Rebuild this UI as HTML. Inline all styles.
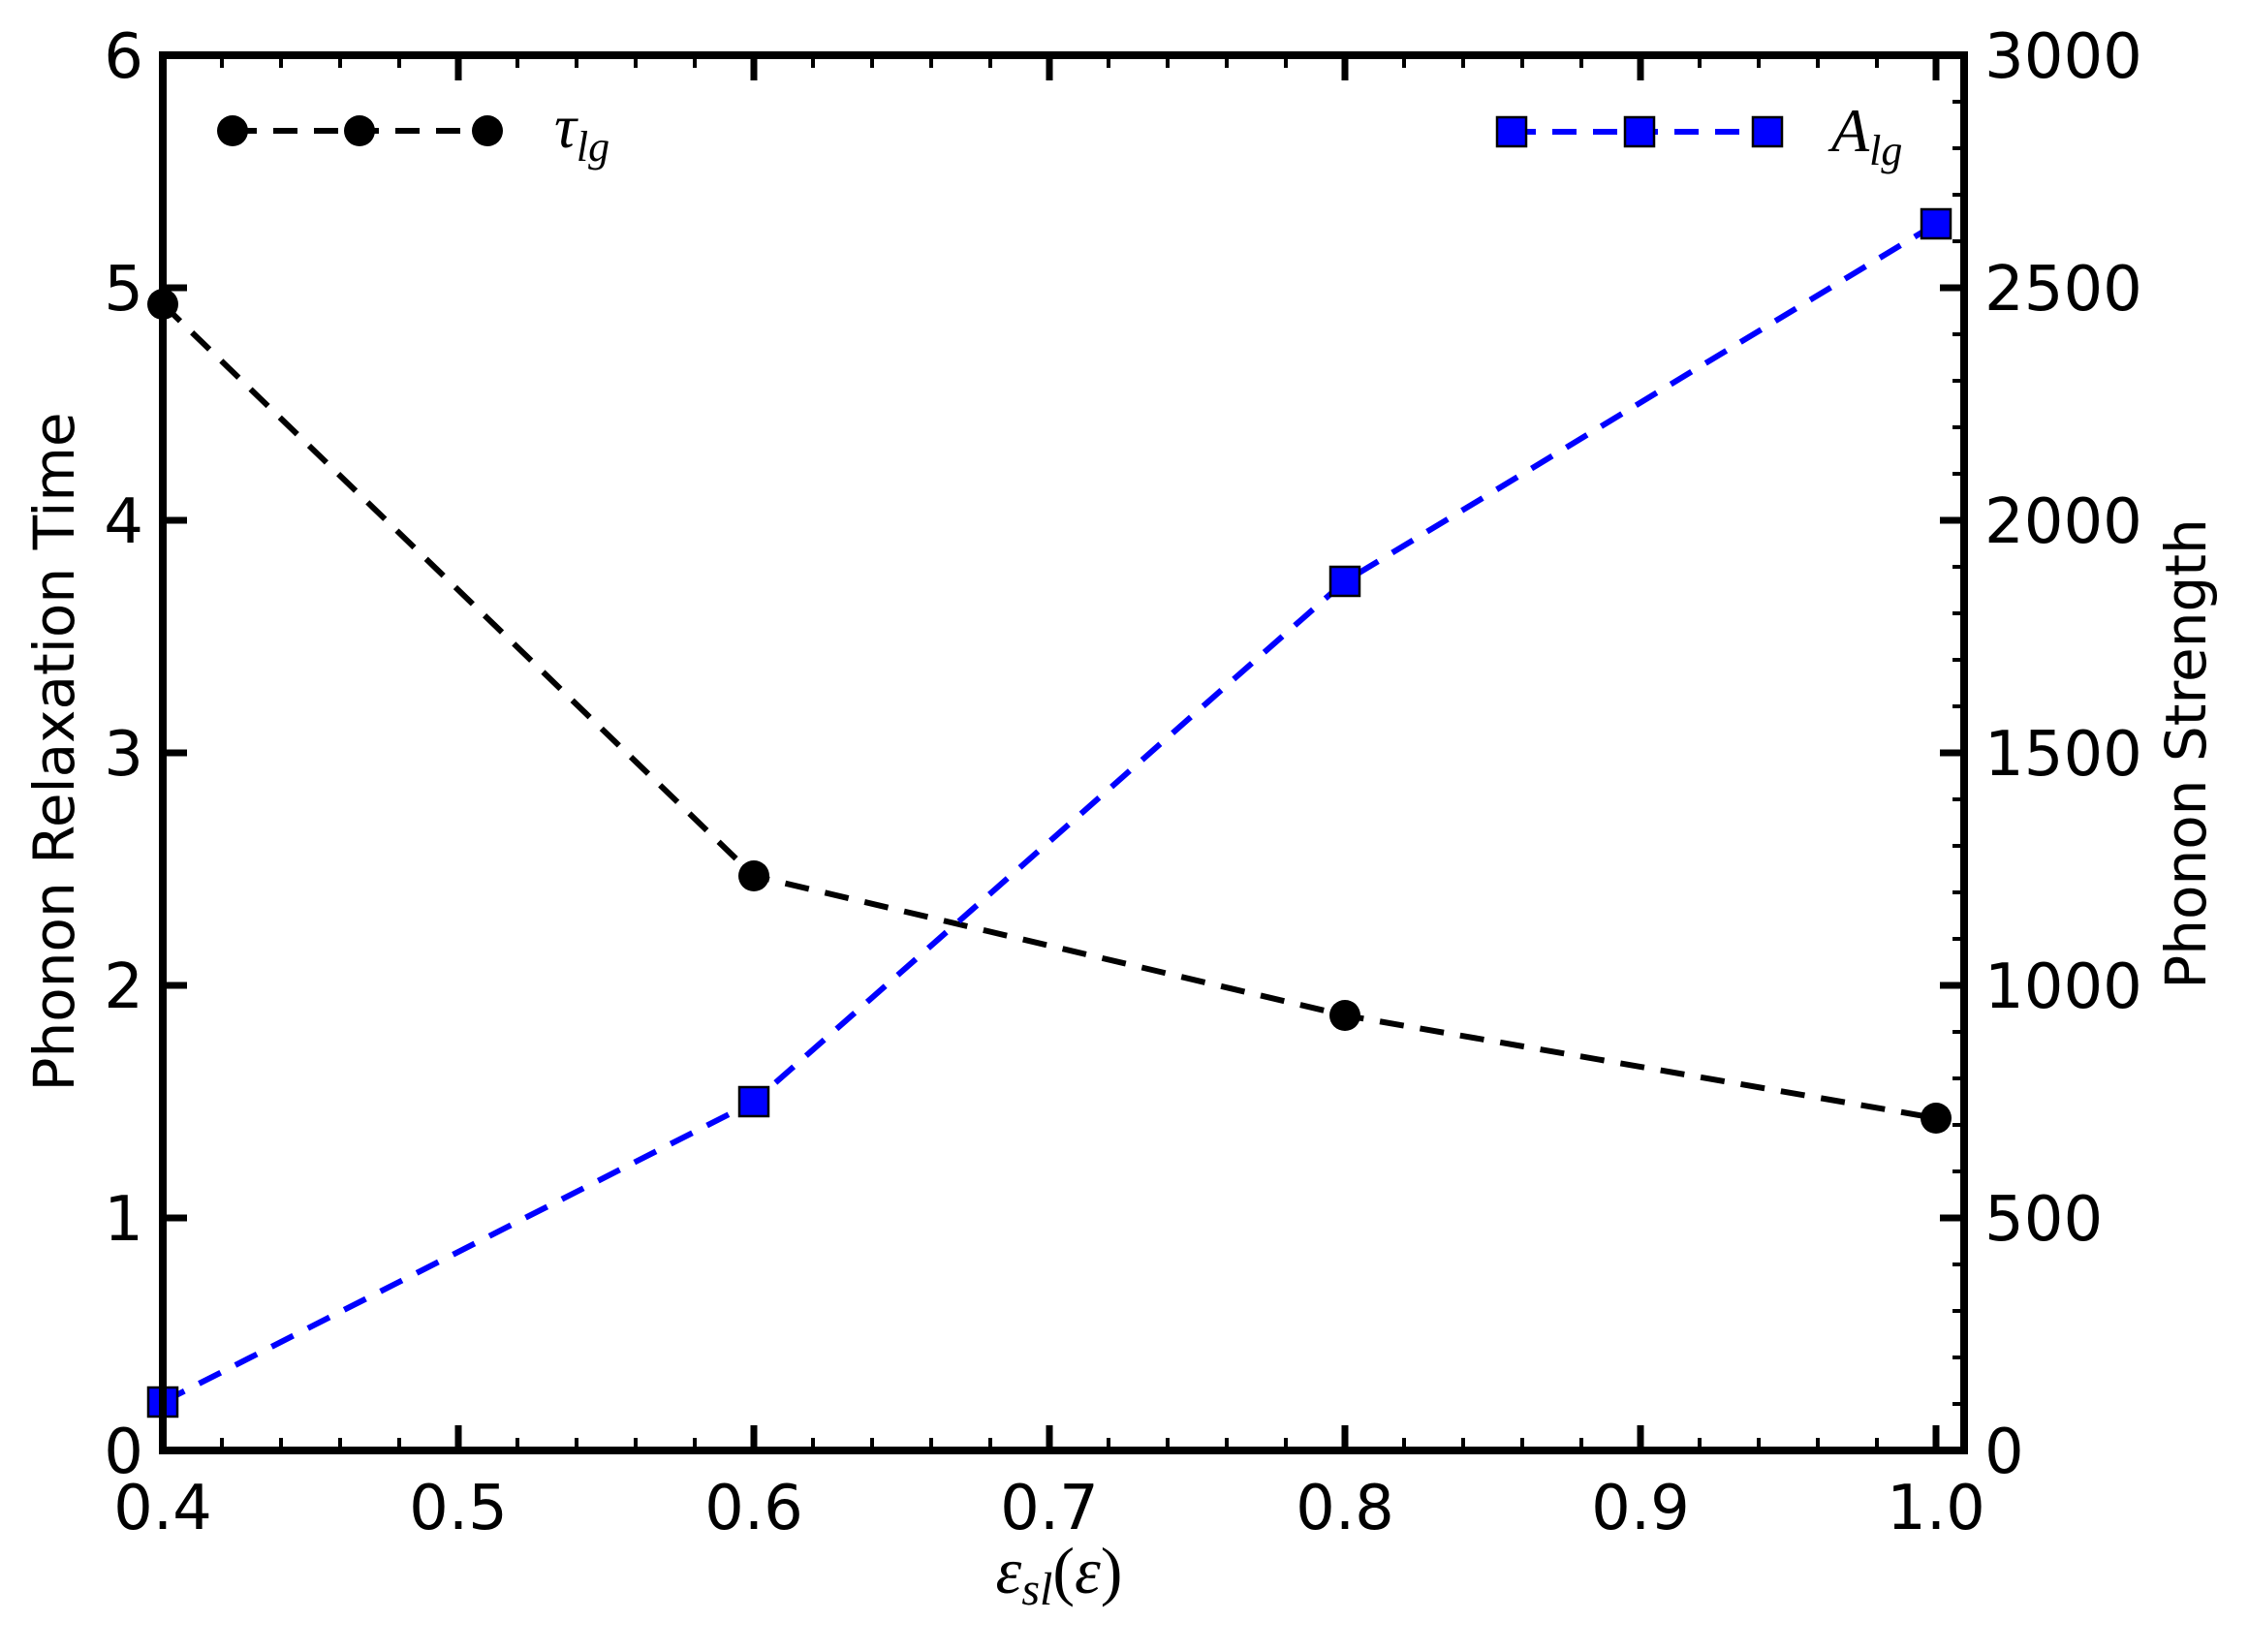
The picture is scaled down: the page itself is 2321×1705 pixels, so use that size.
<!DOCTYPE html>
<html><head><meta charset="utf-8"><style>html,body{margin:0;padding:0;background:#fff}svg{display:block}</style></head>
<body>
<svg width="2321" height="1705" viewBox="0 0 2321 1705" xmlns="http://www.w3.org/2000/svg">
<g stroke="#000" fill="none">
<g stroke-width="4">
<path d="M229,1497v-13M290,1497v-13M351,1497v-13M412,1497v-13M534,1497v-13M595,1497v-13M656,1497v-13M717,1497v-13M839,1497v-13M900,1497v-13M961,1497v-13M1022,1497v-13M1144,1497v-13M1205,1497v-13M1266,1497v-13M1327,1497v-13M1449,1497v-13M1510,1497v-13M1571,1497v-13M1632,1497v-13M1754,1497v-13M1815,1497v-13M1876,1497v-13M1937,1497v-13"/>
<path d="M229,57v13M290,57v13M351,57v13M412,57v13M534,57v13M595,57v13M656,57v13M717,57v13M839,57v13M900,57v13M961,57v13M1022,57v13M1144,57v13M1205,57v13M1266,57v13M1327,57v13M1449,57v13M1510,57v13M1571,57v13M1632,57v13M1754,57v13M1815,57v13M1876,57v13M1937,57v13"/>
<path d="M2027,1449h-12M2027,1401h-12M2027,1353h-12M2027,1305h-12M2027,1209h-12M2027,1161h-12M2027,1113h-12M2027,1065h-12M2027,969h-12M2027,921h-12M2027,873h-12M2027,825h-12M2027,729h-12M2027,681h-12M2027,633h-12M2027,585h-12M2027,489h-12M2027,441h-12M2027,393h-12M2027,345h-12M2027,249h-12M2027,201h-12M2027,153h-12M2027,105h-12"/>
</g>
<g stroke-width="7">
<path d="M473,1497v-26M778,1497v-26M1083,1497v-26M1388,1497v-26M1693,1497v-26M1998,1497v-26"/>
<path d="M473,57v26M778,57v26M1083,57v26M1388,57v26M1693,57v26M1998,57v26"/>
<path d="M168,1257h25M168,1017h25M168,777h25M168,537h25M168,297h25"/>
<path d="M2027,1257h-25M2027,1017h-25M2027,777h-25M2027,537h-25M2027,297h-25"/>
</g>
</g>
<polyline points="168,314 778,904 1388,1048 1998,1154" fill="none" stroke="#000" stroke-width="6" stroke-dasharray="25,17"/>
<g fill="#000"><circle cx="168" cy="314" r="16"/><circle cx="778" cy="904" r="16"/><circle cx="1388" cy="1048" r="16"/><circle cx="1998" cy="1154" r="16"/></g>
<polyline points="168,1447 778,1137 1388,600 1998,231" fill="none" stroke="#0000ff" stroke-width="6" stroke-dasharray="25,17"/>
<g fill="#0000ff" stroke="#000" stroke-width="2.5"><rect x="153" y="1432" width="30" height="30"/><rect x="763" y="1122" width="30" height="30"/><rect x="1373" y="585" width="30" height="30"/><rect x="1983" y="216" width="30" height="30"/></g>
<rect x="168" y="57" width="1859" height="1440" fill="none" stroke="#000" stroke-width="8"/>
<line x1="240" y1="135" x2="503" y2="135" stroke="#000" stroke-width="6" stroke-dasharray="25,17"/>
<g fill="#000"><circle cx="240" cy="135" r="16"/><circle cx="371" cy="135" r="16"/><circle cx="503" cy="135" r="16"/></g>
<text x="572" y="152" font-family="Liberation Serif, serif" font-style="italic" font-size="64">τ<tspan font-size="44" dy="14">lg</tspan></text>
<line x1="1560" y1="136" x2="1824" y2="136" stroke="#0000ff" stroke-width="6" stroke-dasharray="25,17"/>
<g fill="#0000ff" stroke="#000" stroke-width="2.5"><rect x="1545" y="121" width="30" height="30"/><rect x="1677" y="121" width="30" height="30"/><rect x="1809" y="121" width="30" height="30"/></g>
<text x="1890" y="156" font-family="Liberation Serif, serif" font-style="italic" font-size="64">A<tspan font-size="44" dy="14">lg</tspan></text>
<g font-family="DejaVu Sans, Liberation Sans, sans-serif" font-size="64" fill="#000">
<g text-anchor="middle">
<text x="168" y="1578">0.4</text><text x="473" y="1578">0.5</text><text x="778" y="1578">0.6</text><text x="1083" y="1578">0.7</text><text x="1388" y="1578">0.8</text><text x="1693" y="1578">0.9</text><text x="1998" y="1578">1.0</text>
</g>
<g text-anchor="end">
<text x="148" y="1520">0</text><text x="148" y="1280">1</text><text x="148" y="1040">2</text><text x="148" y="800">3</text><text x="148" y="560">4</text><text x="148" y="320">5</text><text x="148" y="80">6</text>
</g>
<g text-anchor="start">
<text x="2048" y="1520">0</text><text x="2048" y="1280">500</text><text x="2048" y="1040">1000</text><text x="2048" y="800">1500</text><text x="2048" y="560">2000</text><text x="2048" y="320">2500</text><text x="2048" y="80">3000</text>
</g>
<text transform="translate(76,776) rotate(-90)" text-anchor="middle" font-size="58">Phonon Relaxation Time</text>
<text transform="translate(2276,778) rotate(-90)" text-anchor="middle" font-size="58">Phonon Strength</text>
</g>
<text x="1093" y="1644" text-anchor="middle" font-family="Liberation Serif, serif" font-style="italic" font-size="68">ε<tspan font-size="48" dy="12">sl</tspan><tspan font-style="normal" dy="-12">(</tspan>ε<tspan font-style="normal">)</tspan></text>
</svg>
</body></html>
